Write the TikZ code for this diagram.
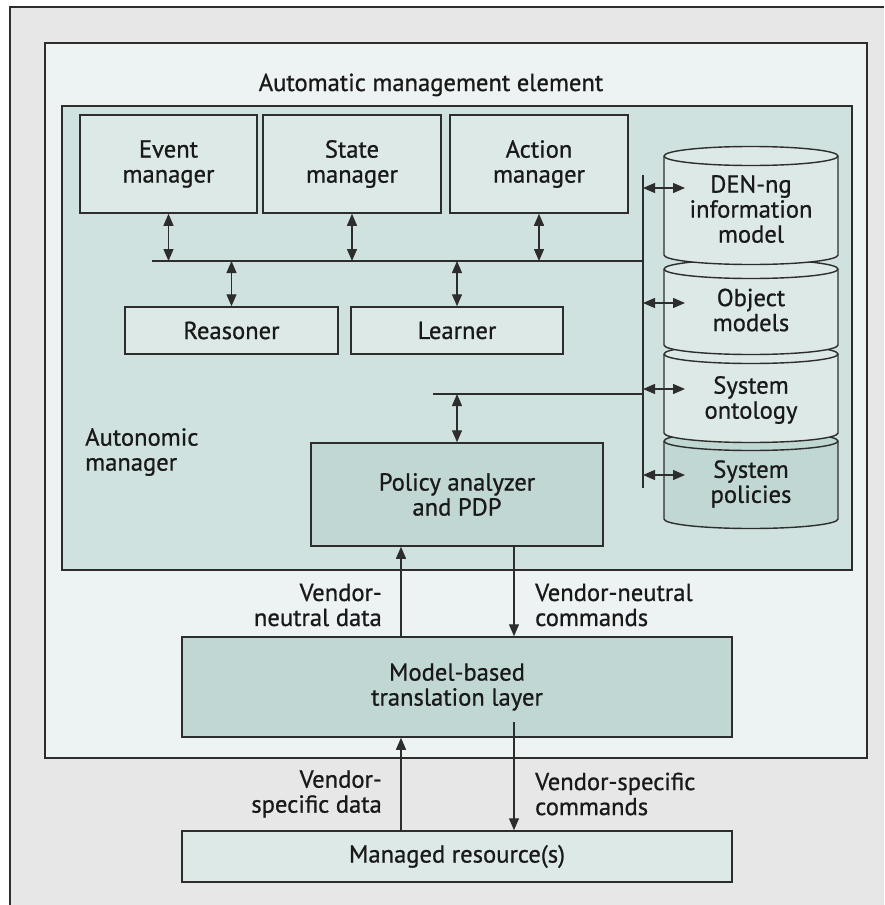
\documentclass[tikz,border=0pt]{standalone}
\usepackage{fontspec}
\setmainfont{PT Sans}[FakeBold=0.8]
\usetikzlibrary{arrows.meta}

\definecolor{pagegray}{RGB}{231,231,231}
\definecolor{elemfill}{RGB}{237,243,242}
\definecolor{mgrfill}{RGB}{208,226,223}
\definecolor{boxfill}{RGB}{221,233,231}
\definecolor{darkfill}{RGB}{192,215,211}
\definecolor{linec}{RGB}{45,45,45}
\definecolor{textc}{RGB}{25,25,25}

\tikzset{
  frameline/.style={draw=linec, line width=1.7pt},
  box/.style={draw=linec, line width=1.5pt, fill=boxfill, inner sep=0pt, align=center},
  darkbox/.style={box, fill=darkfill},
  lbl/.style={inner sep=0pt},
  cylbody/.style={draw=linec, line width=1.4pt},
  wire/.style={draw=linec, line width=1.3pt},
  twoway/.style={wire, {Triangle[length=12pt,width=10pt]}-{Triangle[length=12pt,width=10pt]}},
  oneway/.style={wire, -{Triangle[length=12pt,width=10pt]}},
}

% one stacked cylinder: #1 top y, #2 bottom y, #3 fill colour
\newcommand{\dbcyl}[3]{%
  \path[cylbody, fill=#3] (664,#1) -- (664,#2)
    arc[start angle=180, end angle=360, x radius=87pt, y radius=9.5pt]
    -- (838,#1)
    arc[start angle=0, end angle=180, x radius=87pt, y radius=9.5pt] -- cycle;
  \draw[cylbody] (664,#1) arc[start angle=180, end angle=360, x radius=87pt, y radius=9.5pt];
}

\begin{document}
\begin{tikzpicture}[x=1pt, y=-1pt, font=\fontsize{24.6}{25}\selectfont, text=textc]
\useasboundingbox (0,0) rectangle (884,905);

% page frame
\fill[white] (0,0) rectangle (884,905);
\fill[pagegray] (10,7) rectangle (884,905);
\draw[frameline] (10,905) -- (10,7) -- (884,7);

% automatic management element and autonomic manager
\draw[frameline, fill=elemfill] (45,43) rectangle (867,758);
\node[lbl, anchor=base] (title) at (431,91) {Automatic management element};
\draw[frameline, fill=mgrfill] (62,106) rectangle (852,570);
\node[lbl, anchor=west, align=left] (amlabel) at (85,452) {Autonomic\\manager};

% managers
\node[box, minimum width=177pt, minimum height=98pt] (event) at (168.5,164) {Event\\manager};
\node[box, minimum width=178pt, minimum height=98pt] (state) at (352,164) {State\\manager};
\node[box, minimum width=178pt, minimum height=98pt] (action) at (539,164) {Action\\manager};
\node[box, minimum width=213pt, minimum height=47pt] (reasoner) at (231.5,330.5) {Reasoner};
\node[box, minimum width=212pt, minimum height=47pt] (learner) at (457,330.5) {Learner};
\node[darkbox, minimum width=292pt, minimum height=103pt] (policy) at (457,494.5) {Policy analyzer\\and PDP};

% knowledge stores
\dbcyl{441}{519}{darkfill}
\dbcyl{354}{433}{boxfill}
\dbcyl{269}{345}{boxfill}
\dbcyl{156}{255}{boxfill}
\node[lbl, align=center] (den) at (751,209) {DEN-ng\\information\\model};
\node[lbl, align=center] (objm) at (751,310) {Object\\models};
\node[lbl, align=center] (onto) at (751,400) {System\\ontology};
\node[lbl, align=center] (spol) at (751,484) {System\\policies};

% buses
\coordinate (busL) at (152,261);
\coordinate (busR) at (643,261);
\coordinate (spineT) at (643,175);
\coordinate (spineB) at (643,488);
\coordinate (lowL) at (433,394);
\coordinate (lowR) at (643,394);
\draw[wire] (busL) -- (busR);
\draw[wire] (spineT) -- (spineB);
\draw[wire] (lowL) -- (lowR);

\draw[twoway] (event.south) -- (event.south |- busL);
\draw[twoway] (state.south) -- (state.south |- busL);
\draw[twoway] (action.south) -- (action.south |- busL);
\draw[twoway] (reasoner.north |- busL) -- (reasoner.north);
\draw[twoway] (learner.north |- busL) -- (learner.north);
\draw[twoway] (policy.north |- lowL) -- (policy.north);

% spine to stores
\coordinate (tapA) at (685,188);
\coordinate (tapB) at (685,303);
\coordinate (tapC) at (685,389);
\coordinate (tapD) at (685,475);
\draw[twoway] (spineT |- tapA) -- (tapA);
\draw[twoway] (spineT |- tapB) -- (tapB);
\draw[twoway] (spineT |- tapC) -- (tapC);
\draw[twoway] (spineT |- tapD) -- (tapD);

% translation layer and resources
\node[darkbox, minimum width=550pt, minimum height=100pt] (trans) at (457,687) {Model-based\\translation layer};
\node[box, minimum width=550pt, minimum height=51pt] (res) at (457,856.5) {Managed resource(s)};

\coordinate (upx) at (401,0);
\coordinate (dnx) at (514,0);
\coordinate (dnstart) at (514,722);
\draw[oneway] (upx |- trans.north) -- (upx |- policy.south);
\draw[oneway] (dnx |- policy.south) -- (dnx |- trans.north);
\draw[oneway] (upx |- res.north) -- (upx |- trans.south);
\draw[oneway] (dnstart) -- (dnx |- res.north);

% flow labels
\node[lbl, anchor=east, align=right] (vnd) at (382,605) {Vendor-\\neutral data};
\node[lbl, anchor=west, align=left] (vnc) at (535,605) {Vendor-neutral\\commands};
\node[lbl, anchor=east, align=right] (vsd) at (382,794) {Vendor-\\specific data};
\node[lbl, anchor=west, align=left] (vsc) at (535,794) {Vendor-specific\\commands};
\end{tikzpicture}
\end{document}
